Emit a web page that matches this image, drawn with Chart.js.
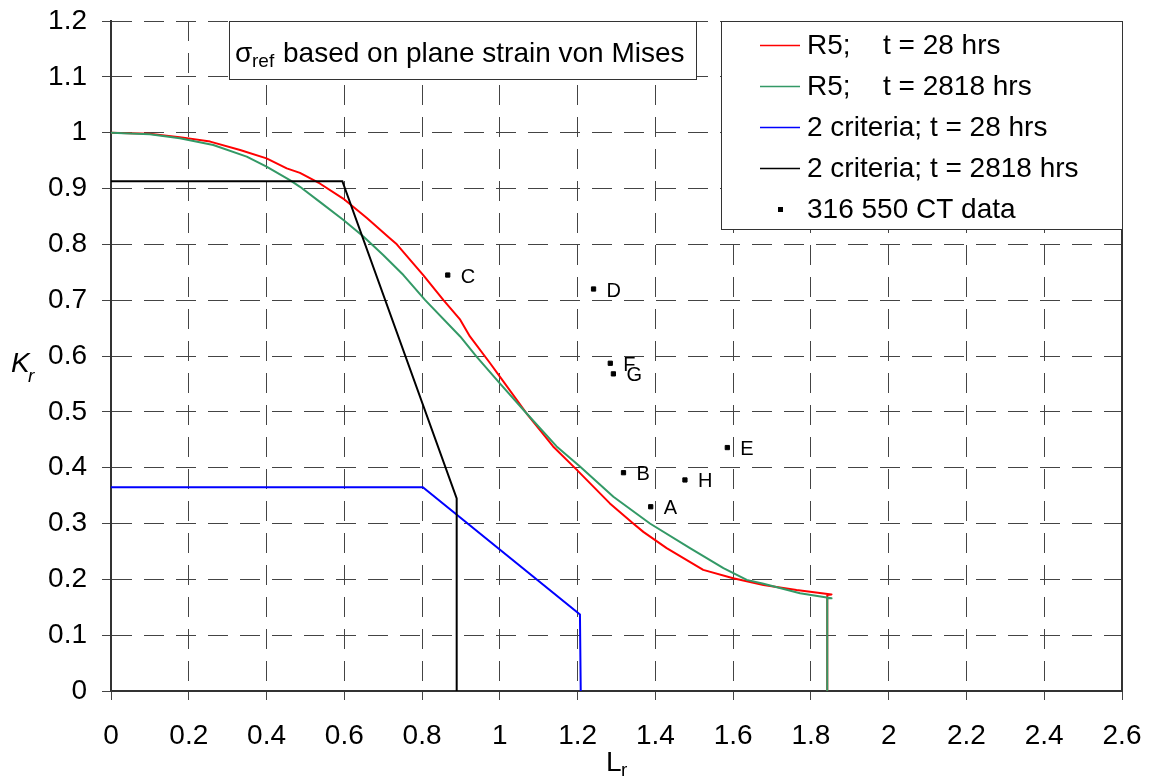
<!DOCTYPE html>
<html><head><meta charset="utf-8">
<script src="https://cdn.jsdelivr.net/npm/chart.js@4.4.0/dist/chart.umd.min.js"></script>
<style>html,body{margin:0;padding:0;background:#fff}canvas{display:block}</style>
</head><body>
<canvas id="c" width="1152" height="777"></canvas>
<script>
// ---- tick values / labels ----
const xTickValues = [0,0.2,0.4,0.6,0.8,1,1.2,1.4,1.6,1.8,2,2.2,2.4,2.6];
const xTickLabels = ['0','0.2','0.4','0.6','0.8','1','1.2','1.4','1.6','1.8','2','2.2','2.4','2.6'];
const yTickValues = [0,0.1,0.2,0.3,0.4,0.5,0.6,0.7,0.8,0.9,1,1.1,1.2];
const yTickLabels = ['0','0.1','0.2','0.3','0.4','0.5','0.6','0.7','0.8','0.9','1','1.1','1.2'];

// ---- series ----
const legendLabels = ['R5;\tt = 28 hrs','R5;\tt = 2818 hrs','2 criteria; t = 28 hrs','2 criteria; t = 2818 hrs','316 550 CT data'];

const redL = [0,0.10,0.126,0.177,0.255,0.332,0.40,0.452,0.486,0.537,0.597,0.658,0.717,0.735,0.777,0.803,0.855,0.898,0.923,0.975,1.0,1.069,1.137,1.198,1.283,1.343,1.369,1.429,1.523,1.600,1.678,1.763,1.853,1.842,1.842];
const redK = [1.0,0.998,0.996,0.992,0.984,0.969,0.954,0.936,0.928,0.909,0.882,0.847,0.811,0.800,0.766,0.745,0.700,0.665,0.635,0.587,0.563,0.497,0.438,0.396,0.336,0.300,0.285,0.256,0.217,0.202,0.190,0.181,0.173,0.172,0];

const greenL = [0,0.10,0.177,0.263,0.349,0.40,0.46,0.486,0.537,0.597,0.649,0.700,0.752,0.808,0.898,0.940,1.0,1.069,1.146,1.206,1.292,1.386,1.489,1.575,1.635,1.678,1.772,1.853,1.842,1.842];
const greenK = [1.0,0.997,0.990,0.978,0.957,0.939,0.915,0.903,0.876,0.844,0.814,0.781,0.745,0.700,0.635,0.599,0.551,0.497,0.438,0.402,0.348,0.300,0.256,0.220,0.199,0.192,0.175,0.166,0.166,0];

const blueL = [0,0.802,1.206,1.208];
const blueK = [0.365,0.365,0.137,0];

const blackL = [0,0.595,0.889,0.889];
const blackK = [0.913,0.913,0.345,0];

const pointNames = ['A','B','C','D','E','F','G','H'];
const pointL = [1.388,1.318,0.866,1.241,1.585,1.284,1.292,1.476];
const pointK = [0.330,0.391,0.745,0.720,0.436,0.587,0.568,0.378];

const FONT = "'Liberation Sans', Arial, sans-serif";
const zip = (a,b) => a.map((v,i)=>({x:v,y:b[i]}));

const zeroPad = s => { s.paddingTop=0; s.paddingBottom=0; s.paddingLeft=0; s.paddingRight=0; };

const overlay = {
  id:'overlay',
  afterDraw(chart){
    const {ctx, chartArea:a, scales:{x,y}} = chart;
    const ds = chart.data.datasets;
    ctx.save();
    // right border
    ctx.strokeStyle='#333'; ctx.lineWidth=2; ctx.setLineDash([]);
    ctx.beginPath(); ctx.moveTo(Math.round(a.right), a.top); ctx.lineTo(Math.round(a.right), a.bottom+1); ctx.stroke();

    // point labels
    ctx.fillStyle='#000'; ctx.font='20px '+FONT; ctx.textBaseline='middle'; ctx.textAlign='left';
    pointNames.forEach((n,i)=>ctx.fillText(n, x.getPixelForValue(pointL[i])+13, y.getPixelForValue(pointK[i])+2));

    // annotation box
    const bx=229.5, by=Math.round(a.top)+0.5, bw=467, bh=58;
    ctx.fillStyle='#fff'; ctx.fillRect(bx,by,bw,bh);
    ctx.strokeStyle='#333'; ctx.lineWidth=1; ctx.strokeRect(bx,by,bw,bh);
    ctx.fillStyle='#000'; ctx.textBaseline='alphabetic';
    ctx.font='28px '+FONT; ctx.fillText('\u03C3', 235, 62);
    ctx.font='19px '+FONT; ctx.fillText('ref', 252, 67);
    ctx.font='28px '+FONT; ctx.fillText('based on plane strain von Mises', 283, 62);

    // legend box
    const lx=721.5, ly=Math.round(a.top)+0.5, lw=Math.round(a.right)-721, lh=208;
    ctx.fillStyle='#fff'; ctx.fillRect(lx,ly,lw,lh);
    ctx.strokeStyle='#333'; ctx.lineWidth=1; ctx.strokeRect(lx,ly,lw,lh);
    const rows=[46.5,87.5,128.5,169.5,210.5];
    ctx.font='28px '+FONT; ctx.textBaseline='middle';
    ds.forEach((d,i)=>{
      const ry=rows[i];
      if(d.showLine){
        ctx.strokeStyle=d.borderColor; ctx.lineWidth=1.5;
        ctx.beginPath(); ctx.moveTo(760,ry-1); ctx.lineTo(800,ry-1); ctx.stroke();
      } else {
        ctx.fillStyle='#000'; ctx.fillRect(778,ry-3.5,5,5);
      }
      ctx.fillStyle='#000';
      const parts=d.label.split('\t');
      ctx.fillText(parts[0],807,ry);
      if(parts[1]) ctx.fillText(parts[1],883,ry);
    });

    // axis titles
    ctx.textBaseline='alphabetic';
    ctx.font='italic 28px '+FONT; ctx.fillText('K',11,372);
    ctx.font='italic 19px '+FONT; ctx.fillText('r',28,382);
    ctx.font='28px '+FONT; ctx.fillText('L',606,771);
    ctx.font='19px '+FONT; ctx.fillText('r',621,776);
    ctx.restore();
  }
};

new Chart(document.getElementById('c'), {
  type:'scatter',
  data:{datasets:[
    {label:legendLabels[0], data:zip(redL,redK), showLine:true, borderColor:'#ff0000', backgroundColor:'#ff0000', borderWidth:2, pointRadius:0, tension:0, borderJoinStyle:'round', order:5},
    {label:legendLabels[1], data:zip(greenL,greenK), showLine:true, borderColor:'#339966', backgroundColor:'#339966', borderWidth:2, pointRadius:0, tension:0, borderJoinStyle:'round', order:4},
    {label:legendLabels[2], data:zip(blueL,blueK), showLine:true, borderColor:'#0000ff', backgroundColor:'#0000ff', borderWidth:2, pointRadius:0, tension:0, order:3},
    {label:legendLabels[3], data:zip(blackL,blackK), showLine:true, borderColor:'#000000', backgroundColor:'#000000', borderWidth:2, pointRadius:0, tension:0, order:2},
    {label:legendLabels[4], data:zip(pointL,pointK), showLine:false, pointStyle:'rect', pointRadius:3, borderWidth:1, borderColor:'#000', backgroundColor:'#000', order:1}
  ]},
  options:{
    responsive:false, animation:false, devicePixelRatio:1,
    layout:{padding:{top:21,right:30,left:0,bottom:0}},
    plugins:{legend:{display:false}, tooltip:{enabled:false}},
    scales:{
      x:{type:'linear', min:0, max:2.6,
        afterBuildTicks:s=>{s.ticks=xTickValues.map(v=>({value:v}));},
        afterFit:s=>{s.height=86; zeroPad(s);},
        ticks:{callback:(v,i)=>xTickLabels[i], color:'#000', font:{family:FONT,size:28}, padding:19, maxRotation:0, autoSkip:false},
        grid:{color:'#444', lineWidth:1, tickLength:9, tickColor:'#444', tickWidth:1},
        border:{display:true, color:'#333', width:2, dash:[20,12]}
      },
      y:{type:'linear', min:0, max:1.2,
        afterBuildTicks:s=>{s.ticks=yTickValues.map(v=>({value:v}));},
        afterFit:s=>{s.width=111; zeroPad(s);},
        ticks:{callback:(v,i)=>yTickLabels[i], color:'#000', font:{family:FONT,size:28}, padding:15, autoSkip:false},
        grid:{color:'#444', lineWidth:1, tickLength:9, tickColor:'#444', tickWidth:1},
        border:{display:true, color:'#333', width:2, dash:[20,12]}
      }
    }
  },
  plugins:[overlay]
});
</script>
</body></html>
